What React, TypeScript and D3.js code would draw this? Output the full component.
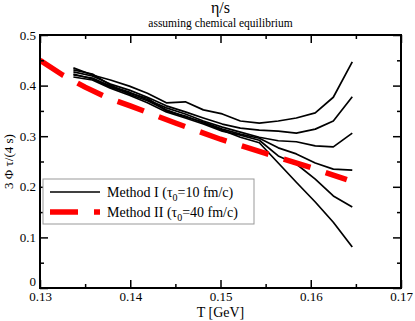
import { useEffect, useRef } from 'react'
import * as d3 from 'd3'

// temperature knots shared by the Method I curves (GeV)
const tKnots = [0.1337, 0.1358, 0.1378, 0.1399, 0.1419, 0.144, 0.1461, 0.1481, 0.1502, 0.1522, 0.1543, 0.1564, 0.1584, 0.1605, 0.1625, 0.1646]

// Method I curves, 3 Φ τ/(4 s)
const curveA = [0.435, 0.421, 0.411, 0.399, 0.385, 0.366, 0.368, 0.352, 0.344, 0.330, 0.326, 0.330, 0.336, 0.346, 0.377, 0.447]
const curveB = [0.427, 0.419, 0.403, 0.391, 0.377, 0.360, 0.348, 0.336, 0.324, 0.316, 0.312, 0.310, 0.306, 0.314, 0.330, 0.378]
const curveC = [0.421, 0.415, 0.399, 0.387, 0.372, 0.356, 0.344, 0.330, 0.318, 0.308, 0.298, 0.291, 0.289, 0.281, 0.279, 0.306]
const curveD = [0.431, 0.423, 0.401, 0.383, 0.370, 0.352, 0.338, 0.328, 0.314, 0.304, 0.296, 0.277, 0.265, 0.247, 0.235, 0.233]
const curveE = [0.417, 0.411, 0.395, 0.381, 0.366, 0.348, 0.336, 0.324, 0.310, 0.302, 0.292, 0.261, 0.245, 0.215, 0.182, 0.160]
const curveF = [0.423, 0.413, 0.397, 0.385, 0.375, 0.350, 0.340, 0.326, 0.312, 0.298, 0.287, 0.247, 0.209, 0.170, 0.130, 0.081]
const methodI = [curveA, curveB, curveC, curveD, curveE, curveF]

// Method II curve
const tII = [0.13, 0.1325, 0.135, 0.1375, 0.14, 0.145, 0.15, 0.155, 0.16, 0.164]
const valII = [0.45, 0.421, 0.397, 0.376, 0.36, 0.326, 0.294, 0.266, 0.238, 0.214]

const xTicks = [0.13, 0.14, 0.15, 0.16, 0.17]
const xMinor = [0.135, 0.145, 0.155, 0.165]
const yTicks = [0, 0.1, 0.2, 0.3, 0.4, 0.5]
const yMinor = [0.05, 0.15, 0.25, 0.35, 0.45]

const W = 415, H = 321
const FONT = 'Liberation Serif, Times New Roman, DejaVu Serif, serif'

export default function App() {
  const svgRef = useRef<SVGSVGElement>(null)

  useEffect(() => {
    const svg = d3.select(svgRef.current)
    svg.selectAll('*').remove()
    svg.attr('width', W).attr('height', H).style('background', '#fff').attr('font-family', FONT)

    const m = { l: 40, r: 401, t: 35, b: 288 }
    const x = d3.scaleLinear().domain([0.13, 0.17]).range([m.l, m.r])
    const y = d3.scaleLinear().domain([0, 0.5]).range([m.b, m.t])

    svg.append('clipPath').attr('id', 'plotclip')
      .append('rect').attr('x', m.l).attr('y', m.t).attr('width', m.r - m.l).attr('height', m.b - m.t)

    // ── curves ─────────────────────────────
    const line = d3.line<[number, number]>().x(d => x(d[0])).y(d => y(d[1]))
    const g = svg.append('g').attr('clip-path', 'url(#plotclip)')
    methodI.forEach(vals => {
      g.append('path').datum(tKnots.map((t, i) => [t, vals[i]] as [number, number]))
        .attr('fill', 'none').attr('stroke', '#000').attr('stroke-width', 1.7)
        .attr('stroke-linejoin', 'round').attr('d', line)
    })
    g.append('path').datum(tII.map((t, i) => [t, valII[i]] as [number, number]))
      .attr('fill', 'none').attr('stroke', '#ff0000').attr('stroke-width', 5.5)
      .attr('stroke-dasharray', '28,16').attr('d', line)

    // ── axes: ticks inward on all four sides ─────────
    const tickStyle = (sel: d3.Selection<SVGGElement, unknown, null, undefined>) => {
      sel.attr('font-family', FONT).attr('font-size', 13)
      sel.select('.domain').remove()
      sel.selectAll('line').attr('stroke', '#000').attr('stroke-width', 1.5)
      sel.selectAll('text').attr('fill', '#000')
    }
    svg.append('g').attr('transform', `translate(0,${m.b})`)
      .call(d3.axisBottom(x).tickValues(xTicks).tickSize(-8).tickPadding(4).tickFormat(d3.format('.2f')))
      .call(tickStyle)
    svg.append('g').attr('transform', `translate(0,${m.b})`)
      .call(d3.axisBottom(x).tickValues(xMinor).tickSize(-4).tickFormat(() => '')).call(tickStyle)
    svg.append('g').attr('transform', `translate(0,${m.t})`)
      .call(d3.axisTop(x).tickValues(xTicks).tickSize(-8).tickFormat(() => '')).call(tickStyle)
    svg.append('g').attr('transform', `translate(0,${m.t})`)
      .call(d3.axisTop(x).tickValues(xMinor).tickSize(-4).tickFormat(() => '')).call(tickStyle)
    const yAxis = svg.append('g').attr('transform', `translate(${m.l},0)`)
      .call(d3.axisLeft(y).tickValues(yTicks).tickSize(-8).tickPadding(4).tickFormat(d => d === 0 ? '0' : d3.format('.1f')(d as number)))
      .call(tickStyle)
    // keep the "0" label clear of the "0.13" label below it
    yAxis.selectAll<SVGTextElement, number>('text').filter(d => d === 0).attr('dy', '-0.2em')
    svg.append('g').attr('transform', `translate(${m.l},0)`)
      .call(d3.axisLeft(y).tickValues(yMinor).tickSize(-4).tickFormat(() => '')).call(tickStyle)
    svg.append('g').attr('transform', `translate(${m.r},0)`)
      .call(d3.axisRight(y).tickValues(yTicks).tickSize(-8).tickFormat(() => '')).call(tickStyle)
    svg.append('g').attr('transform', `translate(${m.r},0)`)
      .call(d3.axisRight(y).tickValues(yMinor).tickSize(-4).tickFormat(() => '')).call(tickStyle)

    // frame
    svg.append('rect').attr('x', m.l).attr('y', m.t).attr('width', m.r - m.l).attr('height', m.b - m.t)
      .attr('fill', 'none').attr('stroke', '#000').attr('stroke-width', 2)

    // ── titles ─────────────────────────
    const cx = (m.l + m.r) / 2
    svg.append('text').attr('x', cx).attr('y', 13).attr('text-anchor', 'middle').attr('font-size', 16).text('η/s')
    svg.append('text').attr('x', cx).attr('y', 27).attr('text-anchor', 'middle').attr('font-size', 11.5).text('assuming chemical equilibrium')
    svg.append('text').attr('x', cx).attr('y', 317).attr('text-anchor', 'middle').attr('font-size', 14).text('T [GeV]')
    svg.append('text').attr('transform', `translate(13,${(m.t + m.b) / 2}) rotate(-90)`)
      .attr('text-anchor', 'middle').attr('font-size', 13).text('3 Φ τ/(4 s)')

    // ── legend ─────────────────────────
    const lg = svg.append('g')
    lg.append('rect').attr('x', 43).attr('y', 179).attr('width', 211).attr('height', 45)
      .attr('fill', '#fff').attr('stroke', '#999').attr('stroke-width', 1)
    lg.append('line').attr('x1', 50).attr('x2', 100).attr('y1', 192).attr('y2', 192)
      .attr('stroke', '#000').attr('stroke-width', 1.7)
    lg.append('line').attr('x1', 50).attr('x2', 100).attr('y1', 212).attr('y2', 212)
      .attr('stroke', '#ff0000').attr('stroke-width', 5.5).attr('stroke-dasharray', '28,16')
    const labels = [['Method I (τ', '=10 fm/c)', 192], ['Method II (τ', '=40 fm/c)', 212]] as const
    labels.forEach(([a, b, ly]) => {
      const t = lg.append('text').attr('x', 107).attr('y', ly + 5).attr('font-size', 14)
      t.append('tspan').text(a)
      t.append('tspan').attr('font-size', 10).attr('dy', 4).text('0')
      t.append('tspan').attr('dy', -4).text(b)
    })
  }, [])

  return <svg ref={svgRef} style={{ position: 'absolute', left: 0, top: 0 }} />
}
